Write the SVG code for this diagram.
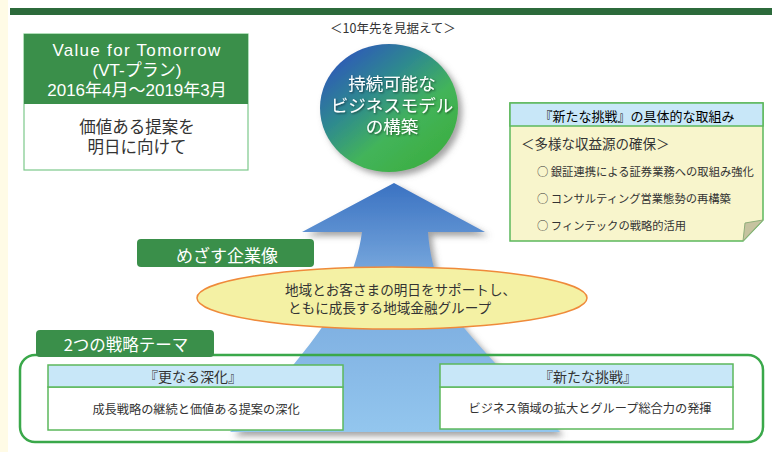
<svg xmlns="http://www.w3.org/2000/svg" width="772" height="452" viewBox="0 0 772 452">
<style>
text{font-family:"Noto Sans CJK JP","Noto Sans",sans-serif;dominant-baseline:central;text-anchor:middle}
.t{font-family:"Liberation Sans","Noto Sans CJK JP",sans-serif}
.w{fill:#ffffff}
.d{fill:#333333}
.g{fill:#3a8f4a}
.hdr{fill:#c8e7f8;stroke:#5cb85c;stroke-width:1.5}
.body{fill:#ffffff;stroke:#5cb85c;stroke-width:1.5}
</style>
<defs>
<linearGradient id="gCircle" x1="0.15" y1="0.1" x2="0.85" y2="0.9">
<stop offset="0" stop-color="#2f5cb6"/>
<stop offset="0.35" stop-color="#2f8c8c"/>
<stop offset="0.65" stop-color="#43b45a"/>
<stop offset="1" stop-color="#3cae42"/>
</linearGradient>
<linearGradient id="gArrow" x1="0" y1="0" x2="0" y2="1">
<stop offset="0" stop-color="#3a72c2"/>
<stop offset="0.35" stop-color="#76a6dc"/>
<stop offset="1" stop-color="#93c6ee"/>
</linearGradient>
<filter id="sh" x="-20%" y="-20%" width="140%" height="140%">
<feDropShadow dx="4" dy="4" stdDeviation="3" flood-color="#666" flood-opacity="0.6"/>
</filter>
<filter id="tsh" x="-20%" y="-20%" width="140%" height="140%">
<feDropShadow dx="1" dy="1" stdDeviation="1" flood-color="#000" flood-opacity="0.55"/>
</filter>
</defs>
<rect x="0" y="0" width="772" height="452" fill="#ffffff"/>
<rect x="0" y="0" width="8" height="452" fill="#fffbe6"/>
<rect x="10" y="8" width="762" height="7" fill="#2c6a3b"/>
<text x="393" y="27" font-size="12.5" class="d">＜10年先を見据えて＞</text>

<g id="vt-plan">
<rect x="24" y="34" width="224" height="136" fill="#ffffff" stroke="#7cc98a" stroke-width="1.2"/>
<rect x="24" y="34" width="224" height="70" class="g"/>
<text x="137" y="50" font-size="17" class="w t" letter-spacing="1.3">Value for Tomorrow</text>
<text x="137" y="70" font-size="17" class="w t">(VT-プラン)</text>
<text x="137" y="90" font-size="17" class="w t">2016年4月～2019年3月</text>
<text x="137" y="127" font-size="16.5" class="d t">価値ある提案を</text>
<text x="137" y="147" font-size="16.5" class="d t">明日に向けて</text>
</g>

<g id="arrow">
<path d="M394,183 L485,232 L428,232 C430,262 440,300 470,335 C500,370 540,410 560,432 L230,432 C260,405 295,365 318,333 C345,296 358,262 362,232 L302,232 Z" fill="url(#gArrow)" filter="url(#sh)"/>
</g>

<g id="goal-circle">
<ellipse cx="389" cy="108" rx="69" ry="64" fill="url(#gCircle)" filter="url(#sh)"/>
<text x="392" y="84" font-size="17.5" class="w t" filter="url(#tsh)">持続可能な</text>
<text x="392" y="106" font-size="17.5" class="w t" filter="url(#tsh)">ビジネスモデル</text>
<text x="392" y="127" font-size="17.5" class="w t" filter="url(#tsh)">の構築</text>
</g>

<g id="initiatives">
<path d="M510,103 H763 V220 L743,241 H510 Z" fill="#f8f5cc" stroke="#5cb85c" stroke-width="1.5"/>
<path d="M745,223 L763,220 L743,241 Z" fill="#c6c3a0" stroke="#8fae7a" stroke-width="1"/>
<rect x="510" y="103" width="253" height="23" class="hdr"/>
<text x="637" y="115" font-size="13">『新たな挑戦』の具体的な取組み</text>
<text x="521" y="143" font-size="13.5" class="d" style="text-anchor:start">＜多様な収益源の確保＞</text>
<text x="537" y="171" font-size="11.3" class="d" style="text-anchor:start">○ 銀証連携による証券業務への取組み強化</text>
<text x="537" y="198" font-size="11.3" class="d" style="text-anchor:start">○ コンサルティング営業態勢の再構築</text>
<text x="537" y="225" font-size="11.3" class="d" style="text-anchor:start">○ フィンテックの戦略的活用</text>
</g>

<g id="vision-label">
<rect x="137" y="239" width="177" height="28" rx="4" class="g"/>
<text x="227" y="254" font-size="17" class="w">めざす企業像</text>
</g>

<g id="vision">
<ellipse cx="392" cy="298" rx="195" ry="31" fill="#f4f1a4" stroke="#ef8a3a" stroke-width="1.5"/>
<text x="285" y="290" font-size="13.6" class="d t" style="text-anchor:start">地域とお客さまの明日をサポートし、</text>
<text x="288" y="308" font-size="13.6" class="d t" style="text-anchor:start">ともに成長する地域金融グループ</text>
</g>

<g id="themes">
<rect x="20" y="355" width="743" height="87" rx="15" fill="none" stroke="#3aa84a" stroke-width="2.5"/>
<rect x="36" y="330" width="178" height="27" rx="4" class="g"/>
<text x="126" y="344" font-size="16.5" class="w">2つの戦略テーマ</text>
</g>

<g id="theme-deepen">
<rect x="48" y="387" width="295" height="43" class="body"/>
<rect x="48" y="365" width="295" height="22" class="hdr"/>
<text x="193" y="376" font-size="14" class="d">『更なる深化』</text>
<text x="196" y="409" font-size="12.2" class="d">成長戦略の継続と価値ある提案の深化</text>
</g>

<g id="theme-challenge">
<rect x="440" y="387" width="293" height="42" class="body"/>
<rect x="440" y="364" width="293" height="23" class="hdr"/>
<text x="588" y="376" font-size="14" class="d">『新たな挑戦』</text>
<text x="590" y="408" font-size="12.2" class="d">ビジネス領域の拡大とグループ総合力の発揮</text>
</g>
</svg>
